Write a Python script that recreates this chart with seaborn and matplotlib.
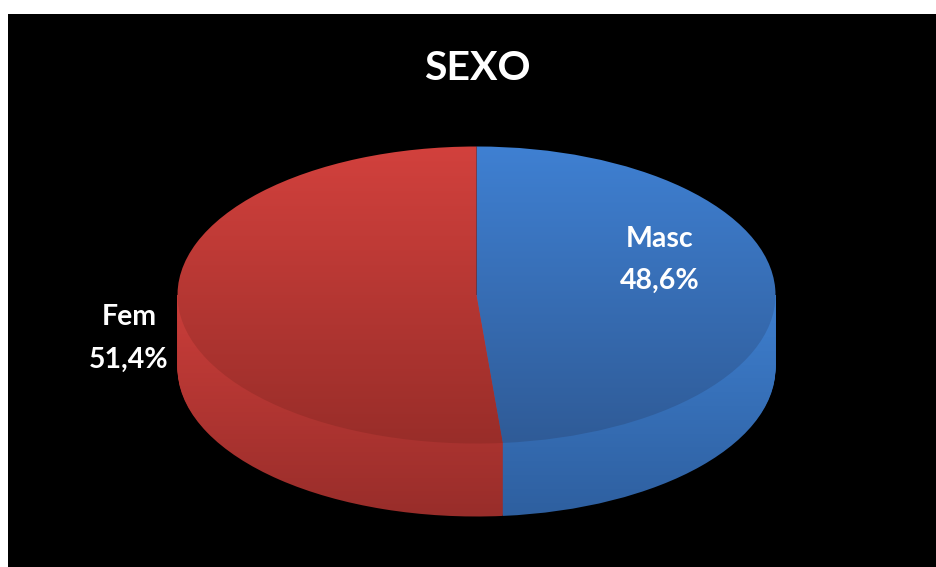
import matplotlib
matplotlib.use("Agg")
import matplotlib.pyplot as plt
import numpy as np
import seaborn as sns

TITLE = "SEXO"
categories = ["Masc", "Fem"]
shares = [48.6, 51.4]
top_colors = [["#3f80d2", "#2f5b97"], ["#d2413d", "#992d29"]]
side_colors = [["#3e7fcf", "#2e5f9f"], ["#cb3e3a", "#982d2a"]]

# pixel geometry of the reference, the pie radius is the data unit
W, H = 937, 567
LEFT, TOP = 8, 14
CX, CY = 476.5, 295
RX, RY = 299, 148.5
DEPTH = 73


def to_x(px):
    return (px - CX) / RX


def to_y(py):
    return (CY - py) / RY


def shaded_wedges(ax, center_y, colors, y_top, y_bottom):
    wedges, _ = ax.pie(shares, startangle=90, counterclock=False, center=(0, center_y), radius=1)
    for wedge, pair in zip(wedges, colors):
        wedge.set_visible(False)
        cmap = sns.blend_palette(pair, n_colors=256, as_cmap=True)
        im = ax.imshow(
            np.linspace(0, 1, 256).reshape(-1, 1),
            cmap=cmap,
            extent=(-1.1, 1.1, to_y(y_bottom), to_y(y_top)),
            origin="upper",
            aspect="auto",
            interpolation="bilinear",
            zorder=2,
        )
        im.set_clip_path(wedge.get_path(), wedge.get_transform())


sns.set_theme(style="white")
plt.rcParams["font.family"] = ["Lato", "DejaVu Sans"]

fig = plt.figure(figsize=(W / 100, H / 100), dpi=100, facecolor="white")
ax = fig.add_axes([LEFT / W, 0, (W - LEFT) / W, (H - TOP) / H])

# side wall, stacked from the bottom up to the top face
for d in np.arange(DEPTH, 0, -1.0):
    shaded_wedges(ax, -d / RY, side_colors, 295, 517)
shaded_wedges(ax, 0, top_colors, 146, 444)

# ax.pie switches the frame off, so the black background has to come back after it
ax.set_frame_on(True)
ax.set_facecolor("black")
ax.set_aspect("auto")
ax.set_xlim(to_x(LEFT), to_x(W))
ax.set_ylim(to_y(H), to_y(TOP))
ax.set_xticks([])
ax.set_yticks([])
for spine in ax.spines.values():
    spine.set_visible(False)

ax.text(to_x(477), to_y(69), TITLE, color="white", fontsize=29.5, fontweight="bold", ha="center", va="center")

label_px = [(660, 239, 281), (129, 317, 360)]
for name, share, (px, py1, py2) in zip(categories, shares, label_px):
    ax.text(to_x(px), to_y(py1), name, color="white", fontsize=20.5, fontweight="bold", ha="center", va="center")
    ax.text(to_x(px), to_y(py2), f"{share:.1f}%".replace(".", ","), color="white", fontsize=20.5,
            fontweight="bold", ha="center", va="center")

fig.savefig("out.png", dpi=100, facecolor="white")
plt.close(fig)
